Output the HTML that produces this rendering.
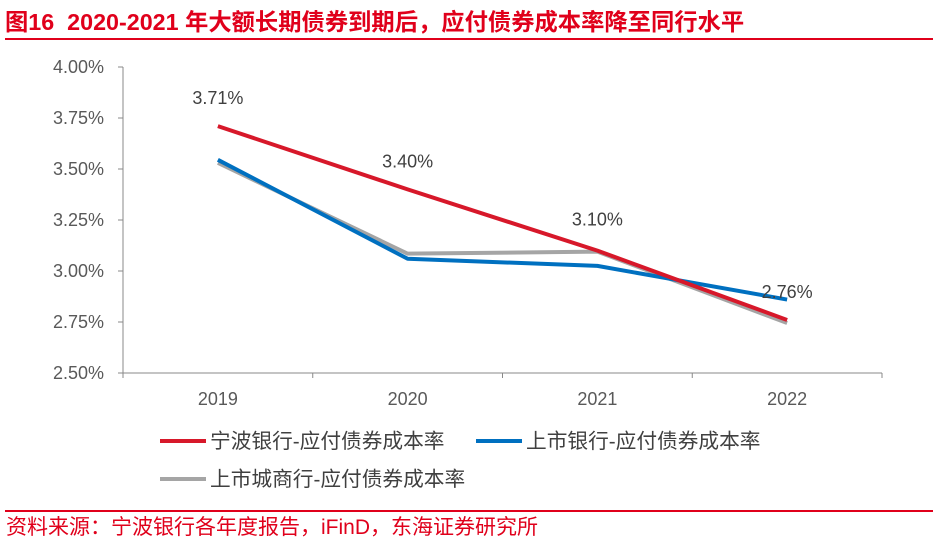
<!DOCTYPE html>
<html><head><meta charset="utf-8"><style>
body{margin:0;width:939px;height:545px;background:#fff;overflow:hidden;font-family:"Liberation Sans","Noto Sans CJK SC",sans-serif;}
</style></head><body>
<svg width="939" height="545" xmlns="http://www.w3.org/2000/svg">
<text x="5" y="30" font-size="23.3" font-weight="bold" fill="#E0001B" font-family="Liberation Sans, Noto Sans CJK SC, sans-serif">图16&#160;&#160;2020-2021 年大额长期债券到期后，应付债券成本率降至同行水平</text>
<rect x="5" y="38" width="928" height="2" fill="#E0001B"/>
<rect x="5" y="510" width="928" height="2" fill="#E0001B"/>
<text x="6" y="534" font-size="21" fill="#E0001B" font-family="Liberation Sans, Noto Sans CJK SC, sans-serif">资料来源：宁波银行各年度报告，iFinD，东海证券研究所</text>
<g id="axes"></g><g id="series"></g><g id="legend"></g>
</svg>
<script>
const categories=["2019","2020","2021","2022"];
const ningbo=[3.71,3.40,3.10,2.76];
const listedBanks=[3.545,3.06,3.025,2.86];
const cityBanks=[3.53,3.085,3.095,2.745];
const ningboLabels=["3.71%","3.40%","3.10%","2.76%"];
const yTicks=[2.50,2.75,3.00,3.25,3.50,3.75,4.00];
const NS="http://www.w3.org/2000/svg";
const X0=123,X1=882,Y0=373,Y1=67,YMIN=2.5,YMAX=4.0;
function xs(i){return X0+(X1-X0)/categories.length*(i+0.5);}
function ys(v){return Y0-(v-YMIN)/(YMAX-YMIN)*(Y0-Y1);}
function mk(tag,at,parent){const e=document.createElementNS(NS,tag);for(const k in at)e.setAttribute(k,at[k]);parent.appendChild(e);return e;}
const ax=document.getElementById('axes');
let yl=mk('line',{x1:X0,y1:Y1,x2:X0,y2:Y0,stroke:'#888','stroke-width':1},ax);


let xl=mk('line',{x1:X0,y1:Y0,x2:X1,y2:Y0,stroke:'#888','stroke-width':1},ax);


yTicks.forEach(v=>{
 mk('line',{x1:X0-5,y1:ys(v),x2:X0,y2:ys(v),stroke:'#888'},ax);
 const t=mk('text',{x:X0-19,y:ys(v)+6,'text-anchor':'end','font-size':18,fill:'#595959'},ax);
 t.textContent=v.toFixed(2)+'%';
 
 
});
for(let i=0;i<=categories.length;i++){const x=X0+(X1-X0)/categories.length*i;mk('line',{x1:x,y1:Y0,x2:x,y2:Y0+5,stroke:'#888'},ax);}
categories.forEach((c,i)=>{
 const t=mk('text',{x:xs(i),y:405,'text-anchor':'middle','font-size':18,fill:'#595959'},ax);
 t.textContent=c;
 
 
});
const sg=document.getElementById('series');
function line(data,color,name){
 const p=mk('polyline',{points:data.map((v,i)=>xs(i)+','+ys(v)).join(' '),fill:'none',stroke:color,'stroke-width':4,'stroke-linejoin':'round'},sg);
 
 
}
line(cityBanks,'#A5A5A5','series-city-banks');
line(listedBanks,'#0070C0','series-listed-banks');
line(ningbo,'#D7182A','series-ningbo');
const lo=[[0,-22],[0,-22],[0,-25],[0,-22]];
ningbo.forEach((v,i)=>{
 const t=mk('text',{x:xs(i)+lo[i][0],y:ys(v)+lo[i][1],'text-anchor':'middle','font-size':18,fill:'#404040'},sg);
 t.textContent=ningboLabels[i];
 
 
});
const lg=document.getElementById('legend');
[[160,441,'#D7182A','宁波银行-应付债券成本率'],[476,441,'#0070C0','上市银行-应付债券成本率'],[160,479,'#A5A5A5','上市城商行-应付债券成本率']].forEach(([x,y,c,l])=>{
 const g=mk('g',{},lg);
 
 
 mk('line',{x1:x,y1:y,x2:x+46,y2:y,stroke:c,'stroke-width':4},g);
 const t=mk('text',{x:x+50,y:y+7,'font-size':20.7,fill:'#404040'},g);
 t.textContent=l;
});
</script>
</body></html>
